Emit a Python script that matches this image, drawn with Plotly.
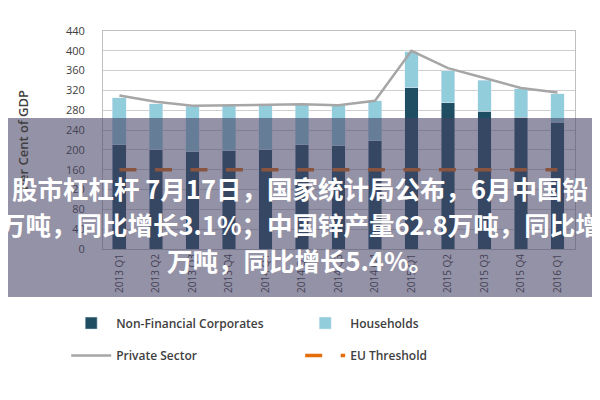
import plotly.graph_objects as go

quarters = ['2013 Q1', '2013 Q2', '2013 Q3', '2013 Q4', '2014 Q1', '2014 Q2', '2014 Q3',
            '2014 Q4', '2015 Q1', '2015 Q2', '2015 Q3', '2015 Q4', '2016 Q1']
non_financial = [210, 200, 196, 198, 200, 210, 208, 218, 325, 295, 278, 266, 256]
households = [95, 93, 92, 92, 90, 82, 82, 81, 73, 65, 63, 57, 57]
private_sector = [310, 297, 289, 290, 290, 292, 290, 299, 400, 365, 345, 325, 316]
eu_threshold = [160] * 13

banner_lines = ['股市杠杠杆 7月17日，国家统计局公布，6月中国铅',
                '万吨，同比增长3.1%；中国锌产量62.8万吨，同比增',
                '万吨，同比增长5.4%。']

txt = '#404040'
fig = go.Figure()
fig.add_trace(go.Bar(x=quarters, y=non_financial, name='Non-Financial Corporates',
                     marker_color='#1f4e62', width=0.38, legend='legend'))
fig.add_trace(go.Bar(x=quarters, y=households, name='Households',
                     marker_color='#92cddc', width=0.38, legend='legend'))
fig.add_trace(go.Scatter(x=quarters, y=private_sector, name='Private Sector', mode='lines',
                         line=dict(color='#a6a6a6', width=2.5), legend='legend2'))
fig.add_trace(go.Scatter(x=quarters, y=eu_threshold, name='EU Threshold', mode='lines',
                         line=dict(color='#e46c0a', width=3.5, dash='17px,18.5px'),
                         legend='legend2'))

legend_style = dict(orientation='h', x=-0.078, xanchor='left', yanchor='middle',
                    entrywidth=179, entrywidthmode='pixels', itemwidth=40,
                    traceorder='normal',
                    font=dict(family='Open Sans', size=12, color=txt, weight=600),
                    bgcolor='rgba(0,0,0,0)')

fig.update_layout(
    width=600, height=400,
    margin=dict(l=95, r=33, t=23, b=159),
    barmode='stack',
    plot_bgcolor='white', paper_bgcolor='white',
    legend=dict(legend_style, y=-0.34),
    legend2=dict(legend_style, y=-0.489),
    xaxis=dict(range=[-0.45, 12.48], tickangle=-90, showgrid=False,
               showline=True, linecolor='#bfbfbf', mirror=True,
               tickfont=dict(family='Open Sans', size=10, color=txt)),
    yaxis=dict(range=[0, 440], dtick=40, gridcolor='#cfcfcf', gridwidth=1.3,
               showline=True, linecolor='#bfbfbf', mirror=True, zeroline=False,
               ticklabelstandoff=15,
               tickfont=dict(family='Open Sans', size=11, color=txt),
               title=dict(text='Per Cent of GDP', standoff=34,
                          font=dict(family='Open Sans', size=13, color=txt, weight=600))),
)

# grey banner laid over the chart
fig.add_shape(type='rect', xref='paper', yref='paper', x0=-0.21, x1=1.08,
              y0=-0.2202, y1=0.601, fillcolor='rgba(70,68,102,0.58)',
              line_width=0, layer='above')
fig.add_shape(type='line', xref='paper', yref='paper', x0=1.0636, x1=1.0636,
              y0=-0.73, y1=1.11, line=dict(color='#d6d6d6', width=1.5), layer='below')

for line, yy in zip(banner_lines, [0.284, 0.119, -0.046]):
    fig.add_annotation(text=line, xref='paper', yref='paper', x=0.418, y=yy,
                       showarrow=False, xanchor='center', yanchor='middle',
                       font=dict(family='Noto Sans CJK SC', size=25.5, color='white', weight='bold'))

fig.write_html("out.html")
